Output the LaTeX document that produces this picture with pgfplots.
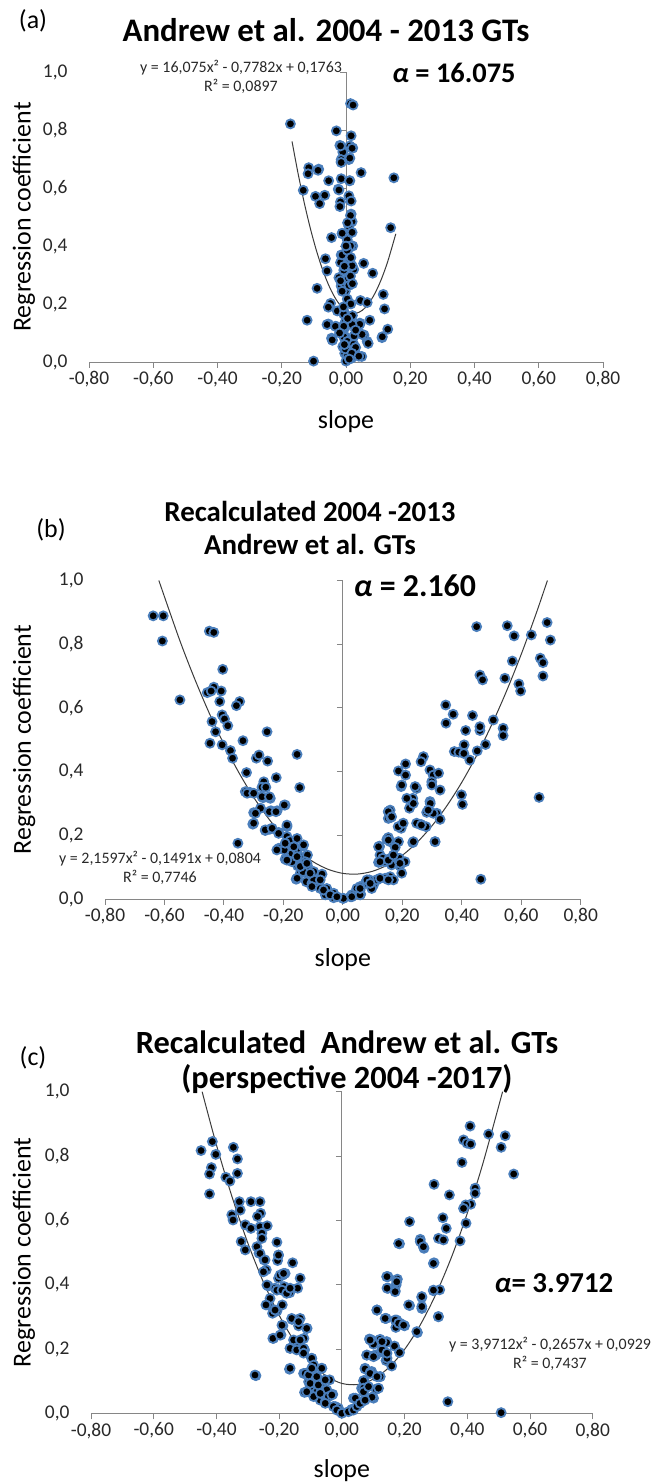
\documentclass[border=0pt]{standalone}
\usepackage{pgfplots}
\pgfplotsset{compat=1.18}
\usepackage{fontspec}
\setmainfont{Carlito}
\definecolor{axisgray}{RGB}{134,134,134}
\definecolor{mkblue}{RGB}{74,126,187}
\definecolor{txt}{RGB}{40,40,40}
\definecolor{trend}{RGB}{60,60,60}

\pgfplotsset{
  panel/.style={
    scale only axis,
    xmin=-0.8, xmax=0.8, ymin=0, ymax=1,
    axis x line*=bottom, axis y line*=left,
    y axis line style={draw=none},
    x axis line style={axisgray, line width=0.9bp},
    xtick={-0.8,-0.6,-0.4,-0.2,0,0.2,0.4,0.6,0.8},
    ytick={0,0.2,0.4,0.6,0.8,1},
    tick align=outside,
    major tick length=6bp,
    xtick style={axisgray, line width=0.9bp},
    ytick style={draw=none},
    /pgf/number format/assume math mode=true,
    xticklabel style={/pgf/number format/fixed, /pgf/number format/fixed zerofill, /pgf/number format/precision=2, /pgf/number format/use comma},
    yticklabel style={/pgf/number format/fixed, /pgf/number format/fixed zerofill, /pgf/number format/precision=1, /pgf/number format/use comma, xshift=-12bp},
    ticklabel style={font=\fontsize{19.5}{22}\selectfont, text=txt},
    label style={font=\fontsize{26}{30}\selectfont, text=black},
    xlabel={slope}, ylabel={Regression coefficient},
    clip=false,
  },
  pts/.style={only marks, mark=*, mark size=4.5bp, mark options={fill=black, draw=mkblue, line width=1.8bp}},
  fit/.style={trend, line width=1bp, smooth, no marks},
}
\newcommand{\yaxisline}[1]{%
  \addplot[axisgray, line width=0.9bp, no marks, forget plot] coordinates {(0,0) (0,1)};
  \addplot[axisgray, line width=0.9bp, no marks, forget plot] coordinates {(-#1,0.2) (0,0.2)};
  \addplot[axisgray, line width=0.9bp, no marks, forget plot] coordinates {(-#1,0.4) (0,0.4)};
  \addplot[axisgray, line width=0.9bp, no marks, forget plot] coordinates {(-#1,0.6) (0,0.6)};
  \addplot[axisgray, line width=0.9bp, no marks, forget plot] coordinates {(-#1,0.8) (0,0.8)};
  \addplot[axisgray, line width=0.9bp, no marks, forget plot] coordinates {(-#1,1) (0,1)};
}

\begin{document}
\begin{tikzpicture}
\path[use as bounding box] (0bp,0bp) rectangle (657bp,1483bp);

% ---------------- panel (a)
\begin{axis}[panel, at={(89bp,1121bp)}, anchor=south west, width=514bp, height=290bp,
  ylabel style={at={(axis description cs:-0.1265,0.5)}, anchor=center},
  xlabel style={at={(axis description cs:0.5,-0.207)}, anchor=center}]
\yaxisline{0.0187}
\addplot[pts] table {
0.014 0.891
0.022 0.886
-0.173 0.821
-0.030 0.797
0.016 0.780
-0.019 0.747
0.021 0.738
-0.010 0.724
0.009 0.698
-0.015 0.691
-0.116 0.670
-0.085 0.665
-0.118 0.649
0.047 0.653
0.149 0.635
-0.054 0.625
-0.015 0.632
0.012 0.625
-0.133 0.592
-0.024 0.596
-0.095 0.571
-0.066 0.575
0.009 0.573
-0.082 0.546
-0.017 0.552
0.016 0.555
-0.019 0.536
0.016 0.510
0.019 0.484
0.009 0.468
0.139 0.463
0.019 0.447
-0.012 0.442
-0.045 0.429
0.004 0.421
0.021 0.400
0.004 0.381
-0.015 0.369
-0.064 0.356
0.012 0.353
0.055 0.340
-0.017 0.343
-0.059 0.314
-0.007 0.317
0.024 0.319
0.083 0.306
-0.022 0.291
0.004 0.285
-0.090 0.254
-0.015 0.262
-0.002 0.244
0.116 0.233
-0.048 0.202
0.004 0.217
0.045 0.212
0.066 0.205
0.120 0.183
-0.055 0.189
-0.007 0.176
-0.121 0.144
-0.055 0.131
-0.002 0.139
0.043 0.134
0.074 0.144
0.130 0.113
-0.045 0.082
-0.002 0.087
0.066 0.071
-0.029 0.122
0.043 0.130
-0.003 0.119
0.112 0.084
-0.042 0.075
0.003 0.082
0.056 0.093
0.069 0.064
-0.010 0.053
-0.003 0.043
0.049 0.019
-0.101 0.003
0.000 0.003
0.017 0.013
-0.004 0.030
0.005 0.024
0.012 0.745
-0.017 0.745
0.019 0.737
-0.015 0.698
0.012 0.703
-0.015 0.688
-0.087 0.661
-0.022 0.593
0.011 0.625
0.014 0.505
-0.012 0.444
0.014 0.400
-0.012 0.369
0.004 0.385
0.019 0.332
0.014 0.296
-0.017 0.280
0.009 0.264
-0.012 0.244
-0.027 0.176
-0.007 0.165
-0.059 0.129
-0.033 0.123
-0.007 0.123
0.019 0.129
0.050 0.095
-0.043 0.076
-0.007 0.087
0.004 0.071
0.024 0.061
-0.002 0.045
0.113 0.087
0.005 0.480
0.000 0.400
0.015 0.360
-0.005 0.330
0.020 0.270
0.015 0.200
-0.008 0.190
0.020 0.160
0.005 0.150
0.025 0.090
0.030 0.050
-0.005 0.060
0.018 0.030
0.040 0.020
0.010 0.010
0.030 0.110
-0.020 0.100
};
\addplot[fit] coordinates {
(-0.168,0.7607) (-0.15,0.6547) (-0.13,0.5491) (-0.11,0.4564) (-0.09,0.3766)
(-0.07,0.3095) (-0.05,0.2554) (-0.03,0.2141) (-0.01,0.1857) (0.01,0.1701)
(0.03,0.1674) (0.05,0.1776) (0.07,0.2006) (0.09,0.2365) (0.11,0.2852)
(0.13,0.3468) (0.155,0.4419)
};
\end{axis}

% ---------------- panel (b)
\begin{axis}[panel, at={(105bp,584bp)}, anchor=south west, width=475.7bp, height=318.5bp,
  ylabel style={at={(axis description cs:-0.170,0.5)}, anchor=center},
  xlabel style={at={(axis description cs:0.5,-0.19)}, anchor=center}]
\yaxisline{0.0202}
\addplot[pts] table {
-0.638 0.889
-0.604 0.889
-0.607 0.810
-0.548 0.625
-0.449 0.841
-0.434 0.837
-0.404 0.721
-0.456 0.648
-0.434 0.665
-0.443 0.653
-0.409 0.653
-0.414 0.620
-0.440 0.557
-0.428 0.525
-0.447 0.489
-0.406 0.578
-0.398 0.565
-0.387 0.544
-0.406 0.484
-0.378 0.466
-0.371 0.442
-0.347 0.620
-0.358 0.607
-0.336 0.497
-0.324 0.397
-0.328 0.337
-0.313 0.335
-0.300 0.271
-0.303 0.235
-0.291 0.442
-0.282 0.452
-0.255 0.525
-0.253 0.433
-0.266 0.368
-0.272 0.351
-0.268 0.318
-0.277 0.285
-0.259 0.351
-0.244 0.316
-0.224 0.381
-0.242 0.277
-0.221 0.277
-0.261 0.215
-0.246 0.219
-0.216 0.209
-0.194 0.295
-0.353 0.175
-0.188 0.227
-0.188 0.196
-0.216 0.159
-0.197 0.154
-0.194 0.125
-0.154 0.454
-0.145 0.350
-0.177 0.183
-0.166 0.164
-0.171 0.143
-0.154 0.190
-0.154 0.154
-0.134 0.166
-0.145 0.133
-0.119 0.138
-0.152 0.104
-0.126 0.117
-0.157 0.062
-0.143 0.081
-0.119 0.104
-0.115 0.075
-0.098 0.086
-0.123 0.054
-0.104 0.049
-0.070 0.078
-0.087 0.049
-0.076 0.033
-0.054 0.033
-0.059 0.013
-0.031 0.018
-0.031 0.004
0.000 0.002
-0.098 0.060
-0.134 0.086
-0.171 0.117
0.025 0.007
0.058 0.028
0.086 0.049
0.114 0.060
0.125 0.138
0.123 0.164
0.142 0.117
0.153 0.274
0.153 0.253
0.148 0.187
0.159 0.070
0.103 0.044
0.041 0.018
0.450 0.855
0.553 0.858
0.576 0.826
0.634 0.829
0.687 0.868
0.698 0.813
0.570 0.747
0.664 0.756
0.673 0.742
0.673 0.700
0.461 0.703
0.470 0.688
0.545 0.693
0.592 0.675
0.598 0.653
0.346 0.609
0.371 0.580
0.347 0.552
0.436 0.576
0.506 0.562
0.413 0.529
0.461 0.529
0.461 0.541
0.539 0.536
0.539 0.513
0.375 0.463
0.390 0.461
0.408 0.484
0.407 0.457
0.452 0.465
0.480 0.485
0.427 0.436
0.271 0.447
0.263 0.431
0.187 0.402
0.211 0.424
0.211 0.389
0.293 0.405
0.304 0.389
0.322 0.395
0.299 0.368
0.196 0.353
0.248 0.347
0.327 0.342
0.235 0.316
0.293 0.306
0.224 0.285
0.282 0.272
0.316 0.269
0.399 0.327
0.402 0.297
0.159 0.279
0.161 0.256
0.327 0.250
0.198 0.232
0.196 0.222
0.263 0.234
0.280 0.227
0.153 0.193
0.159 0.180
0.187 0.180
0.235 0.177
0.310 0.180
0.123 0.166
0.176 0.162
0.120 0.115
0.134 0.128
0.161 0.128
0.190 0.128
0.209 0.117
0.164 0.107
0.192 0.104
0.198 0.081
0.170 0.060
0.142 0.065
0.114 0.060
0.089 0.060
0.075 0.049
0.097 0.033
0.058 0.039
0.047 0.033
0.060 0.015
0.030 0.013
0.002 0.002
0.660 0.319
0.464 0.062
-0.322 0.332
-0.300 0.332
-0.272 0.321
-0.247 0.321
-0.294 0.269
-0.300 0.238
-0.247 0.274
-0.225 0.274
-0.197 0.295
-0.261 0.217
-0.238 0.222
-0.216 0.206
-0.188 0.232
-0.222 0.154
-0.194 0.175
-0.188 0.122
-0.165 0.164
-0.154 0.133
-0.132 0.170
-0.143 0.102
-0.121 0.112
-0.154 0.065
-0.110 0.081
-0.104 0.039
-0.076 0.060
-0.065 0.028
-0.043 0.013
-0.020 0.007
0.030 0.007
0.058 0.013
0.058 0.033
0.081 0.060
0.092 0.049
0.125 0.065
0.153 0.060
0.125 0.117
0.153 0.122
0.170 0.138
0.192 0.112
0.120 0.164
0.153 0.185
0.186 0.227
0.203 0.238
0.153 0.274
0.164 0.258
0.237 0.300
0.248 0.238
0.264 0.232
0.294 0.300
0.304 0.269
0.287 0.279
0.299 0.358
0.310 0.180
0.237 0.180
0.215 0.316
0.198 0.358
0.243 0.353
};
\addplot[fit] coordinates {
(-0.6189,1.0) (-0.55,0.8157) (-0.5,0.6949) (-0.45,0.5848) (-0.4,0.4856)
(-0.35,0.3972) (-0.3,0.3195) (-0.25,0.2527) (-0.2,0.1966) (-0.15,0.1514)
(-0.1,0.1169) (-0.05,0.0933) (0,0.0804) (0.05,0.0783) (0.1,0.0871)
(0.15,0.1066) (0.2,0.1370) (0.25,0.1781) (0.3,0.2300) (0.35,0.2928)
(0.4,0.3663) (0.45,0.4506) (0.5,0.5458) (0.55,0.6517) (0.6,0.7684)
(0.65,0.8960) (0.688,1.0)
};
\end{axis}

% ---------------- panel (c)
\begin{axis}[panel, at={(91bp,69.7bp)}, anchor=south west, width=501.7bp, height=321.6bp,
  ylabel style={at={(axis description cs:-0.1335,0.5)}, anchor=center},
  xlabel style={at={(axis description cs:0.5,-0.177)}, anchor=center}]
\yaxisline{0.0191}
\addplot[pts] table {
-0.449 0.817
-0.413 0.845
-0.402 0.805
-0.416 0.764
-0.422 0.744
-0.422 0.682
-0.370 0.734
-0.357 0.722
-0.346 0.827
-0.333 0.791
-0.333 0.746
-0.327 0.658
-0.324 0.632
-0.351 0.617
-0.347 0.601
-0.290 0.658
-0.261 0.658
-0.259 0.622
-0.269 0.612
-0.308 0.586
-0.290 0.575
-0.261 0.580
-0.238 0.583
-0.255 0.560
-0.255 0.544
-0.321 0.534
-0.308 0.508
-0.264 0.498
-0.248 0.477
-0.241 0.446
-0.235 0.396
-0.207 0.532
-0.202 0.492
-0.205 0.475
-0.157 0.468
-0.188 0.430
-0.202 0.420
-0.181 0.435
-0.213 0.389
-0.184 0.394
-0.166 0.375
-0.141 0.389
-0.133 0.420
-0.235 0.337
-0.221 0.311
-0.207 0.318
-0.190 0.337
-0.218 0.233
-0.194 0.244
-0.188 0.272
-0.159 0.292
-0.138 0.272
-0.165 0.202
-0.143 0.223
-0.121 0.233
-0.111 0.264
-0.119 0.197
-0.274 0.117
-0.167 0.137
-0.111 0.124
-0.106 0.098
-0.096 0.171
-0.092 0.140
-0.096 0.109
-0.122 0.124
-0.119 0.065
-0.080 0.073
-0.064 0.140
-0.064 0.093
-0.069 0.041
-0.053 0.036
-0.039 0.104
-0.029 0.059
-0.048 0.073
-0.021 0.021
-0.011 0.016
0.000 0.002
-0.080 0.098
-0.101 0.083
-0.090 0.052
0.143 0.425
0.147 0.389
0.112 0.321
0.140 0.295
0.122 0.230
0.143 0.223
0.095 0.228
0.079 0.181
0.106 0.181
0.126 0.192
0.074 0.140
0.095 0.130
0.122 0.114
0.071 0.102
0.110 0.075
0.063 0.078
0.101 0.047
0.037 0.047
0.058 0.031
0.032 0.012
0.409 0.893
0.468 0.868
0.521 0.863
0.508 0.827
0.388 0.850
0.399 0.840
0.411 0.837
0.548 0.744
0.383 0.780
0.294 0.712
0.343 0.679
0.425 0.700
0.425 0.684
0.411 0.650
0.395 0.648
0.388 0.637
0.322 0.608
0.333 0.575
0.396 0.591
0.216 0.596
0.308 0.544
0.324 0.539
0.377 0.536
0.250 0.541
0.262 0.513
0.184 0.527
0.294 0.468
0.147 0.425
0.177 0.417
0.173 0.399
0.147 0.389
0.170 0.381
0.292 0.381
0.312 0.384
0.255 0.360
0.255 0.326
0.216 0.335
0.112 0.321
0.141 0.295
0.175 0.290
0.186 0.280
0.200 0.272
0.172 0.267
0.308 0.301
0.241 0.251
0.088 0.231
0.101 0.215
0.143 0.220
0.168 0.209
0.184 0.189
0.080 0.181
0.109 0.181
0.127 0.192
0.141 0.164
0.159 0.147
0.074 0.138
0.090 0.127
0.122 0.114
0.069 0.101
0.109 0.075
0.069 0.078
0.096 0.050
0.067 0.038
0.043 0.047
0.032 0.012
0.338 0.036
0.508 0.002
-0.271 0.518
-0.261 0.497
-0.245 0.477
-0.250 0.440
-0.239 0.399
-0.229 0.357
-0.242 0.337
-0.213 0.321
-0.207 0.383
-0.197 0.430
-0.202 0.492
-0.186 0.435
-0.191 0.383
-0.176 0.373
-0.165 0.389
-0.160 0.295
-0.133 0.295
-0.138 0.285
-0.112 0.264
-0.191 0.274
-0.220 0.233
-0.197 0.243
-0.165 0.202
-0.154 0.228
-0.144 0.197
-0.133 0.228
-0.122 0.202
-0.122 0.187
-0.096 0.171
-0.090 0.150
-0.117 0.124
-0.106 0.119
-0.080 0.114
-0.096 0.140
-0.112 0.067
-0.101 0.093
-0.064 0.140
-0.075 0.088
-0.053 0.104
-0.069 0.062
-0.043 0.052
-0.053 0.031
-0.032 0.057
-0.027 0.021
-0.016 0.010
0.000 0.000
0.021 0.005
0.037 0.010
0.048 0.021
0.058 0.031
0.074 0.041
0.069 0.067
0.085 0.083
0.090 0.124
0.112 0.114
0.117 0.078
0.101 0.176
0.128 0.197
0.144 0.171
0.090 0.228
0.128 0.223
0.144 0.187
0.112 0.321
0.138 0.295
0.170 0.290
0.181 0.280
0.197 0.274
0.144 0.425
0.175 0.409
0.144 0.389
0.170 0.378
0.213 0.337
0.239 0.254
0.255 0.332
0.255 0.363
0.292 0.383
0.308 0.300
0.181 0.528
0.250 0.534
0.260 0.518
0.292 0.466
-0.277 0.119
-0.165 0.140
};
\addplot[fit] coordinates {
(-0.4456,1.0) (-0.4,0.8346) (-0.35,0.6724) (-0.3,0.5300) (-0.25,0.4075)
(-0.2,0.3049) (-0.15,0.2221) (-0.1,0.1592) (-0.05,0.1161) (0,0.0929)
(0.05,0.0895) (0.1,0.1060) (0.15,0.1424) (0.2,0.1986) (0.25,0.2747)
(0.3,0.3706) (0.35,0.4864) (0.4,0.6220) (0.45,0.7775) (0.5126,1.0)
};
\end{axis}

% ---------------- texts
\node[font=\fontsize{26}{30}\selectfont] at (33bp,1462bp) {(a)};
\node[font=\bfseries\fontsize{33}{37}\selectfont] at (326bp,1453bp) {Andrew et al. 2004 - 2013 GTs};
\node[font=\fontsize{16}{19}\selectfont, text=txt, align=center] at (241bp,1406bp) {y = 16,075x² - 0,7782x + 0,1763\\R² = 0,0897};
\node[font=\bfseries\fontsize{28.5}{32}\selectfont] at (454bp,1410bp) {\textit{α} = 16.075};

\node[font=\fontsize{26}{30}\selectfont] at (51bp,953bp) {(b)};
\node[font=\bfseries\fontsize{29}{33}\selectfont, align=center] at (310bp,955bp) {Recalculated 2004 -2013\\Andrew et al. GTs};
\node[font=\fontsize{16}{19.5}\selectfont, text=txt, align=center] at (160bp,615bp) {y = 2,1597x² - 0,1491x + 0,0804\\R² = 0,7746};
\node[font=\bfseries\fontsize{32}{36}\selectfont] at (415bp,897bp) {\textit{α} = 2.160};

\node[font=\fontsize{26}{30}\selectfont] at (33bp,425bp) {(c)};
\node[font=\bfseries\fontsize{32.5}{35}\selectfont, align=center] at (347bp,421bp) {Recalculated\ \ Andrew et al. GTs\\(perspective 2004 -2017)};
\node[font=\fontsize{16}{18.5}\selectfont, text=txt, align=center] at (550bp,129bp) {y = 3,9712x² - 0,2657x + 0,0929\\R² = 0,7437};
\node[font=\bfseries\fontsize{29}{33}\selectfont] at (554bp,200bp) {\textit{α}= 3.9712};
\end{tikzpicture}
\end{document}
